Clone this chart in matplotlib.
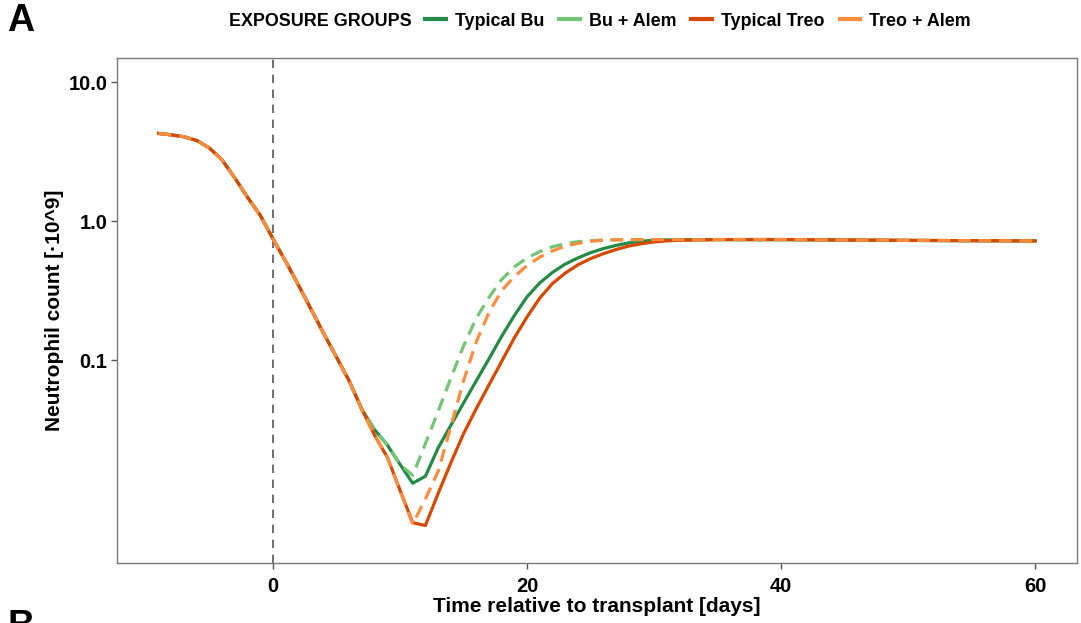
import matplotlib
matplotlib.use("Agg")
import matplotlib.pyplot as plt
from matplotlib.lines import Line2D

plt.rcParams['font.family'] = ['Liberation Sans', 'DejaVu Sans']
plt.rcParams['font.weight'] = 'bold'

# ---- data ----
days_pre = [-9, -8, -7, -6, -5, -4, -3, -2, -1, 0, 1, 2, 3, 4, 5, 6, 7]
pre_vals = [4.27, 4.17, 4.04, 3.80, 3.35, 2.75, 2.04, 1.48, 1.10, 0.745,
            0.513, 0.347, 0.232, 0.155, 0.105, 0.0708, 0.0442]

days_post = [8, 9, 10, 11, 12, 13, 14, 15, 16, 17, 18, 19, 20, 21, 22, 23,
             24, 25, 26, 27, 28, 29, 30, 31, 32, 35, 40, 45, 50, 55, 60]
bu_typ = [0.0316, 0.0245, 0.0178, 0.0130, 0.0146, 0.0233, 0.0339, 0.049,
          0.0708, 0.102, 0.148, 0.209, 0.285, 0.359, 0.427, 0.49, 0.543,
          0.592, 0.634, 0.668, 0.697, 0.716, 0.728, 0.732, 0.734, 0.736,
          0.735, 0.73, 0.726, 0.722, 0.72]
bu_alem = [0.0316, 0.0245, 0.0178, 0.0148, 0.0251, 0.0427, 0.0741, 0.126,
           0.200, 0.282, 0.380, 0.468, 0.543, 0.603, 0.653, 0.687, 0.711,
           0.724, 0.730, 0.733, 0.735, 0.736, 0.736, 0.736, 0.736, 0.736,
           0.735, 0.73, 0.726, 0.722, 0.72]
treo_typ = [0.0288, 0.0200, 0.0116, 0.00676, 0.00646, 0.01096, 0.0182,
            0.0295, 0.0447, 0.0661, 0.0977, 0.1445, 0.204, 0.279, 0.355,
            0.422, 0.484, 0.537, 0.582, 0.624, 0.661, 0.687, 0.708, 0.721,
            0.728, 0.736, 0.737, 0.732, 0.727, 0.723, 0.72]
treo_alem = [0.0288, 0.0200, 0.0116, 0.0066, 0.0100, 0.0158, 0.0331, 0.0708,
             0.135, 0.219, 0.316, 0.398, 0.479, 0.55, 0.61, 0.66, 0.692,
             0.716, 0.728, 0.733, 0.735, 0.736, 0.736, 0.736, 0.736, 0.737,
             0.737, 0.732, 0.727, 0.723, 0.72]

labels = ["Typical Bu", "Bu + Alem", "Typical Treo", "Treo + Alem"]
colors = ["#238b45", "#74c476", "#d94801", "#fd8d3c"]
styles = ["solid", "dashed", "solid", "dashed"]
series = [bu_typ, bu_alem, treo_typ, treo_alem]

yticks = [0.1, 1.0, 10.0]
ytick_labels = ["0.1", "1.0", "10.0"]
xticks = [0, 20, 40, 60]

# ---- figure ----
fig = plt.figure(figsize=(10.81, 6.23), dpi=100)
ax = fig.add_axes([117/1081, 1-563/623, (1077-117)/1081, (563-58)/623])

ax.axvline(0, color="#555555", lw=1.2, ls=(0, (5, 4)), zorder=1)

for vals, c, s in zip(series, colors, styles):
    x = days_pre + days_post
    y = pre_vals + vals
    if s == "dashed":
        ax.plot(x, y, color=c, lw=2.3, ls=(0, (4, 2.4)), zorder=3,
                dash_capstyle='butt', dash_joinstyle='round')
    else:
        ax.plot(x, y, color=c, lw=2.3, zorder=3, solid_joinstyle='round')

ax.set_yscale("log")
ax.set_ylim(0.00347, 14.9)
ax.set_xlim(-12.28, 63.3)
ax.set_yticks(yticks)
ax.set_yticklabels(ytick_labels)
ax.yaxis.set_minor_locator(matplotlib.ticker.NullLocator())
ax.set_xticks(xticks)
ax.tick_params(axis='both', labelsize=14.5, length=4, width=1,
               color="#555555", labelcolor="black")
ax.tick_params(axis='x', pad=6)
ax.tick_params(axis='y', pad=3)
for lab in ax.get_xticklabels() + ax.get_yticklabels():
    lab.set_fontweight('bold')
for sp in ax.spines.values():
    sp.set_color("#7a7a7a")
    sp.set_linewidth(1.0)

ax.set_xlabel("Time relative to transplant [days]", fontsize=15,
              fontweight='bold', labelpad=1)
ax.set_ylabel("Neutrophil count [·10^9]", fontsize=15,
              fontweight='bold', labelpad=3)

# legend
fig.text(229/1081, 1-21/623, "EXPOSURE GROUPS", fontsize=12.9,
         fontweight='bold', va='center', ha='left')
handles = [Line2D([0], [0], color=c, lw=3) for c in colors]
leg = fig.legend(handles, labels, loc='center left',
                 bbox_to_anchor=(425/1081, 1-21/623), ncol=4, frameon=False,
                 fontsize=12.9, handlelength=1.15, handletextpad=0.5,
                 columnspacing=0.85, borderaxespad=0, borderpad=0)
for t in leg.get_texts():
    t.set_fontweight('bold')

fig.text(7/1081, 1-21/623, "A", fontsize=27, fontweight='bold',
         va='center', ha='left')
fig.text(7/1081, 1-609/623, "B", fontsize=27, fontweight='bold',
         va='top', ha='left')

fig.savefig("out.png", dpi=100)
